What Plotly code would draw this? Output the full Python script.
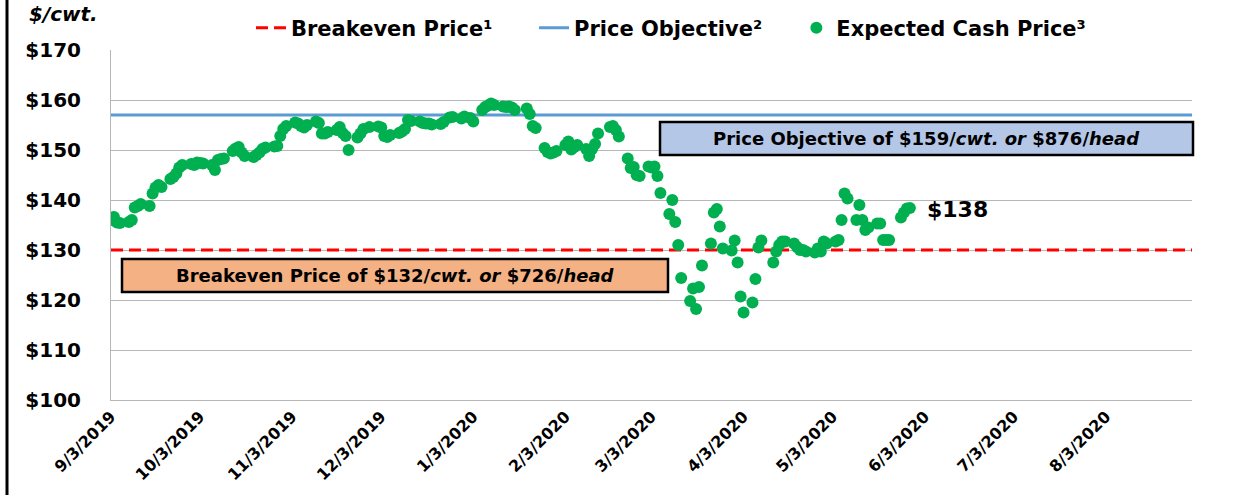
import pandas as pd
import plotly.graph_objects as go

# ---------------- data ----------------
START = "2019-09-03"
END_DATA = "2020-05-29"
AXIS_END = "2020-09-01"
HOLIDAYS = ["2019-11-28", "2019-12-25", "2020-01-01", "2020-01-20",
            "2020-02-17", "2020-04-10", "2020-05-25"]

PRICES = [
    136.0, 136.6, 135.5, 135.4,
    135.6, 136.0, 138.5, 138.8, 139.2,
    138.8, 141.3, 142.5, 143.0, 142.6,
    144.2, 144.6, 145.3, 146.5, 147.0,
    147.2, 147.0, 147.5, 147.4, 147.3,
    147.0, 146.0, 148.0, 148.2, 148.3,
    149.8, 150.3, 150.6, 149.5, 148.8,
    148.6, 149.0, 149.5, 150.2, 150.5,
    150.7, 150.8, 152.8, 154.2, 154.8,
    155.5, 155.3, 154.8, 154.5, 155.0,
    155.7, 155.4, 153.3, 153.3, 153.6,
    154.0, 154.6, 153.4, 152.8, 150.0,
    152.5, 153.3, 154.2, 154.6,
    154.7, 154.5, 152.8, 152.6, 153.0,
    153.4, 153.7, 154.2, 156.0, 155.8,
    155.7, 155.4, 155.3, 155.3, 155.1,
    155.2, 155.6, 156.5, 156.6,
    156.3, 156.7, 156.4, 155.7,
    158.0, 158.6, 158.9, 159.3, 159.0,
    158.7, 158.6, 158.7, 158.5, 158.0,
    158.3, 157.2, 154.8, 154.4,
    150.4, 149.6, 149.3, 149.5, 149.8,
    151.0, 151.7, 150.1, 150.6, 151.0,
    150.2, 148.8, 150.2, 151.2, 153.3,
    154.6, 154.8, 154.0, 152.7,
    148.3, 146.4, 146.6, 145.0, 144.8,
    146.7, 146.5, 146.7, 144.8, 141.4,
    137.2, 140.0, 135.6, 131.0, 124.4,
    119.8, 122.3, 118.2, 122.6, 126.9,
    131.3, 137.5, 138.2, 134.7, 130.3,
    129.9, 131.9, 127.5, 120.7, 117.5,
    119.5, 124.2, 130.5, 131.9,
    127.5, 129.7, 131.0, 131.7, 131.7,
    131.3, 130.6, 130.0, 130.0, 129.7,
    129.5, 130.3, 129.7, 131.7, 131.3,
    131.7, 132.0, 136.0, 141.3, 140.3,
    136.0, 139.0, 136.0, 134.0, 134.5,
    135.3, 135.3, 132.0, 132.0, 132.0,
    136.5, 137.5, 138.3, 138.4,
]

BREAKEVEN = 130
OBJECTIVE = 157
LAST_LABEL = "$138"

SERIES_NAMES = ["Breakeven Price¹", "Price Objective²", "Expected Cash Price³"]

TICK_DATES = ["2019-09-03", "2019-10-03", "2019-11-03", "2019-12-03",
              "2020-01-03", "2020-02-03", "2020-03-03", "2020-04-03",
              "2020-05-03", "2020-06-03", "2020-07-03", "2020-08-03"]
TICK_LABELS = ["9/3/2019", "10/3/2019", "11/3/2019", "12/3/2019",
               "1/3/2020", "2/3/2020", "3/3/2020", "4/3/2020",
               "5/3/2020", "6/3/2020", "7/3/2020", "8/3/2020"]
Y_TICKS = [100, 110, 120, 130, 140, 150, 160, 170]
Y_LABELS = ["$100", "$110", "$120", "$130", "$140", "$150", "$160", "$170"]

dates = [d for d in pd.bdate_range(START, END_DATA)
         if d.strftime("%Y-%m-%d") not in HOLIDAYS]
assert len(dates) == len(PRICES), (len(dates), len(PRICES))

FONT = "DejaVu Sans"
NB = "\u00a0"
line_x = [START, AXIS_END]

fig = go.Figure()
fig.add_trace(go.Scatter(
    x=line_x, y=[BREAKEVEN, BREAKEVEN], mode="lines",
    name=SERIES_NAMES[0] + NB * 5,
    line=dict(color="#FF0000", width=3, dash="12px,6px"),
))
fig.add_trace(go.Scatter(
    x=line_x, y=[OBJECTIVE, OBJECTIVE], mode="lines",
    name=SERIES_NAMES[1] + NB * 4,
    line=dict(color="#5B9BD5", width=3),
))
fig.add_trace(go.Scatter(
    x=dates, y=PRICES, mode="markers",
    name=SERIES_NAMES[2],
    marker=dict(color="#00B050", size=12),
))

W, H = 1249, 495
L, R, T, B = 111, 57, 50, 95
PW, PH = W - L - R, H - T - B


def px(xp):
    return (xp - L) / PW


def py(yp):
    return (H - B - yp) / PH


fig.update_layout(
    width=W, height=H,
    margin=dict(l=L, r=R, t=T, b=B, autoexpand=False),
    paper_bgcolor="white", plot_bgcolor="white",
    font=dict(family=FONT, color="black"),
    showlegend=True,
    legend=dict(
        orientation="h", x=px(251), xanchor="left", y=py(28), yanchor="middle",
        font=dict(family=FONT, size=21, weight="bold", color="black"),
        bgcolor="rgba(0,0,0,0)",
    ),
    xaxis=dict(
        type="date", range=[START, AXIS_END],
        tickvals=TICK_DATES, ticktext=TICK_LABELS, tickangle=-45,
        tickfont=dict(family=FONT, size=16, weight="bold"),
        showgrid=False, showline=True, linecolor="#B7B7B7", linewidth=1,
        ticks="", zeroline=False,
    ),
    yaxis=dict(
        range=[100, 170], tickvals=Y_TICKS, ticktext=Y_LABELS,
        tickfont=dict(family=FONT, size=20, weight="bold"),
        showgrid=True, gridcolor="#B7B7B7", gridwidth=1,
        showline=True, linecolor="#B7B7B7", linewidth=1,
        ticks="outside", ticklen=0, ticklabelstandoff=25, zeroline=False,
    ),
)

# annotation boxes
fig.add_shape(type="rect", xref="paper", yref="paper",
              x0=px(660), x1=px(1193), y0=py(155), y1=py(122),
              fillcolor="#B4C7E7", line=dict(color="black", width=2.5))
fig.add_shape(type="rect", xref="paper", yref="paper",
              x0=px(122), x1=px(668), y0=py(292), y1=py(259),
              fillcolor="#F4B183", line=dict(color="black", width=2.5))
fig.add_annotation(xref="paper", yref="paper", x=px(926.5), y=py(138.5),
                   text="Price Objective of $159/<i>cwt. or</i> $876/<i>head</i>",
                   showarrow=False, xanchor="center", yanchor="middle",
                   font=dict(family=FONT, size=18, weight="bold"))
fig.add_annotation(xref="paper", yref="paper", x=px(395), y=py(275.5),
                   text="Breakeven Price of $132/<i>cwt. or</i> $726/<i>head</i>",
                   showarrow=False, xanchor="center", yanchor="middle",
                   font=dict(family=FONT, size=18, weight="bold"))
fig.add_annotation(xref="paper", yref="paper", x=px(925), y=py(209),
                   text=LAST_LABEL, showarrow=False, xanchor="left", yanchor="middle",
                   font=dict(family=FONT, size=22, weight="bold"))
fig.add_annotation(xref="paper", yref="paper", x=px(28), y=py(1),
                   text="<i>$/cwt.</i>", showarrow=False, xanchor="left", yanchor="top",
                   borderpad=0,
                   font=dict(family=FONT, size=20, weight="bold"))
# left border
fig.add_shape(type="line", xref="paper", yref="paper",
              x0=px(7), x1=px(7), y0=py(H + 5), y1=py(-5),
              line=dict(color="black", width=3))

fig.write_html("out.html", config={"displayModeBar": False},
               post_script="document.body.style.margin='0';")
